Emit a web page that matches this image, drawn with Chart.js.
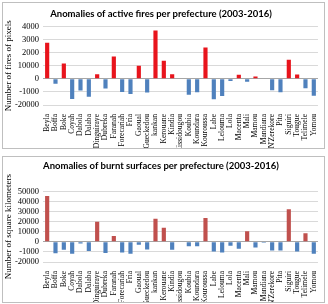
<!DOCTYPE html>
<html>
<head>
<meta charset="utf-8">
<script src="https://cdn.jsdelivr.net/npm/chart.js@4"></script>
<style>
  body { margin: 0; background: #fff; }
  .box { position: absolute; left: 2px; width: 321px; border: 1px solid #bfbfbf; background: #fff; }
  #box1 { top: 2px; height: 145px; }
  #box2 { top: 156px; height: 145px; }
  canvas { display: block; }
</style>
</head>
<body>
<div class="box" id="box1"><canvas id="firesChart" width="321" height="145"></canvas></div>
<div class="box" id="box2"><canvas id="burntChart" width="321" height="145"></canvas></div>
<script>
const prefectures = ["Beyla", "Boffa", "Boke", "Coyah", "Dabola", "Dalaba", "Dinguiraye", "Dubreka",
    "Faranah", "Forecariah", "Fria", "Gaoual", "Gueckedou", "kankan", "Kerouane", "Kindia",
    "Kissidougou", "Koubia", "Koundara", "Kouroussa", "Labe", "Lelouma", "Lola", "Macenta",
    "Mali", "Mamou", "Mandiana", "N'Zerekore", "Pita", "Siguiri", "Tougue", "Telimele", "Yomou"];

// anomalies of active fires (pixels)
const firesValues = [2750, -370, 1160, -1550, -900, -1370, 340, -740,
    1710, -1000, -1160, 1000, -1050, 3680, 1370, 350,
    40, -1220, -1030, 2390, -1560, -1320, -170, 300,
    -220, 170, 40, -880, -1030, 1450, 330, -720, -1290];

// anomalies of burnt surfaces (km2)
const burntValues = [45400, -11300, -7900, -11700, -1700, -9000, 19900, -11000,
    5800, -10700, -11700, -2800, -7600, 23000, 14000, -7900,
    0, -4500, -4500, 23700, -9700, -10700, -3800, -6900,
    10600, -5500, -1000, -8600, -8600, 32300, -9700, 8600, -11700];

// tick labels as printed on the original figure
const firesTicks = {"4000": "4000", "3000": "3000", "2000": "2000", "1000": "10000", "0": "0", "-1000": "-1000", "-2000": "-20000"};
const burntTicks = {"50000": "50000", "40000": "40000", "30000": "30000", "20000": "20000", "10000": "10000", "0": "0", "-10000": "-1000", "-20000": "-20000"};

function makeChart(id, opts) {
    const ctx = document.getElementById(id).getContext('2d');
    return new Chart(ctx, {
        type: 'bar',
        data: {
            labels: prefectures,
            datasets: [{
                data: opts.values,
                backgroundColor: opts.values.map(v => v >= 0 ? opts.posColor : '#4f81bd'),
                barPercentage: 0.5,
                categoryPercentage: 1.0
            }]
        },
        options: {
            responsive: false,
            animation: false,
            layout: { padding: { left: 0, right: 5, top: 0, bottom: 0 } },
            plugins: {
                legend: { display: false },
                tooltip: { enabled: false },
                title: {
                    display: true,
                    text: opts.title,
                    color: '#000',
                    font: { family: 'Lato', size: 9.5, weight: 'bold' },
                    padding: opts.titlePadding
                }
            },
            scales: {
                x: {
                    grid: { display: false },
                    border: { display: false },
                    ticks: {
                        autoSkip: false,
                        maxRotation: 90,
                        minRotation: 90,
                        color: '#000',
                        padding: 1,
                        font: { family: 'Liberation Serif', size: 7.6 }
                    },
                    afterFit: s => { s.height = opts.xHeight; }
                },
                y: {
                    min: opts.min,
                    max: opts.max,
                    ticks: {
                        stepSize: opts.step,
                        autoSkip: false,
                        color: '#000',
                        padding: 4,
                        font: { family: 'Liberation Serif', size: 8.5 },
                        callback: v => opts.tickLabels[String(v)] ?? ''
                    },
                    grid: {
                        color: c => c.tick && c.tick.value === 0 ? '#a6a6a6' : '#d9d9d9',
                        drawTicks: false
                    },
                    border: { display: false },
                    title: {
                        display: true,
                        text: opts.yTitle,
                        color: '#000',
                        padding: 0,
                        font: { family: 'Liberation Serif', size: 9 }
                    },
                    afterFit: s => { s.width = 40; }
                }
            }
        }
    });
}

makeChart('firesChart', {
    values: firesValues,
    posColor: '#e8141c',
    title: 'Anomalies of active fires per prefecture (2003-2016)',
    titlePadding: { top: 5, bottom: 7 },
    xHeight: 43,
    min: -2000, max: 4000, step: 1000,
    tickLabels: firesTicks,
    yTitle: 'Number of fires of pixels'
});

makeChart('burntChart', {
    values: burntValues,
    posColor: '#c0504d',
    title: 'Anomalies of burnt surfaces per prefecture (2003-2016)',
    titlePadding: { top: 3, bottom: 20 },
    xHeight: 40,
    min: -20000, max: 50000, step: 10000,
    tickLabels: burntTicks,
    yTitle: 'Number of square kilometers'
});
</script>
</body>
</html>
